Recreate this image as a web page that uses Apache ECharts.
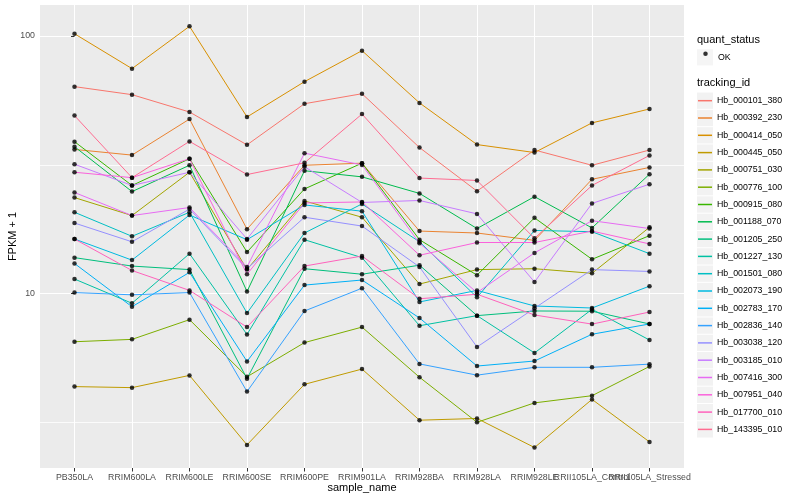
<!DOCTYPE html>
<html><head><meta charset="utf-8">
<script src="https://cdn.jsdelivr.net/npm/echarts@6/dist/echarts.min.js"></script>
<style>html,body{margin:0;padding:0;background:#fff}#c{width:800px;height:500px}</style>
</head><body><div id="c"></div>
<script>
const samples = ['PB350LA','RRIM600LA','RRIM600LE','RRIM600SE','RRIM600PE','RRIM901LA','RRIM928BA','RRIM928LA','RRIM928LE','RRII105LA_Control','RRII105LA_Stressed'];
const yTickValues = [10, 100];
const yMinorValues = [3.1623, 31.623];

const Hb_000101_380 = [63.6, 59.2, 50.7, 37.8, 54.6, 59.7, 36.9, 25.0, 36.1, 31.5, 36.1];
const Hb_000392_230 = [36.3, 34.5, 47.6, 17.8, 31.5, 32.1, 17.5, 17.2, 16.1, 27.8, 30.9];
const Hb_000414_050 = [102, 74.7, 109, 48.5, 66.5, 87.7, 55.0, 37.9, 35.3, 46.0, 52.1];
const Hb_000445_050 = [4.36, 4.32, 4.82, 2.59, 4.45, 5.10, 3.23, 3.28, 2.53, 3.89, 2.66];
const Hb_000751_030 = [23.6, 20.1, 29.6, 12.4, 22.9, 19.8, 10.9, 12.4, 12.5, 12.0, 18.1];
const Hb_000776_100 = [6.51, 6.65, 7.93, 4.76, 6.46, 7.42, 4.74, 3.17, 3.77, 4.02, 5.22];
const Hb_000915_080 = [38.9, 26.3, 33.4, 14.5, 25.5, 32.1, 16.2, 11.8, 19.7, 13.6, 16.8];
const Hb_001188_070 = [37.2, 24.9, 31.5, 10.2, 30.0, 28.4, 24.5, 17.9, 23.8, 18.0, 29.1];
const Hb_001205_250 = [13.8, 12.8, 12.4, 4.68, 12.5, 11.9, 12.9, 8.22, 8.57, 8.55, 7.63];
const Hb_001227_130 = [11.4, 9.18, 14.3, 6.95, 16.2, 13.8, 7.51, 8.22, 5.89, 8.70, 6.61];
const Hb_001501_080 = [20.7, 16.7, 20.7, 8.41, 17.2, 22.3, 15.9, 9.68, 17.6, 17.4, 14.3];
const Hb_002073_190 = [16.3, 13.5, 20.2, 16.2, 22.1, 20.9, 9.29, 10.3, 8.96, 8.80, 10.7];
const Hb_002783_170 = [13.1, 8.90, 12.1, 5.46, 10.8, 11.3, 8.05, 5.24, 5.48, 6.96, 7.63];
const Hb_002836_140 = [10.1, 9.90, 10.1, 4.17, 8.57, 10.5, 5.34, 4.83, 5.18, 5.18, 5.33];
const Hb_003038_120 = [18.8, 15.9, 21.3, 12.5, 19.8, 18.3, 12.7, 6.21, 8.78, 12.4, 12.2];
const Hb_003185_010 = [31.8, 26.3, 29.6, 16.3, 31.1, 22.6, 23.0, 20.4, 11.1, 22.4, 26.6];
const Hb_007416_300 = [24.7, 20.1, 21.6, 12.7, 35.1, 31.6, 15.7, 10.1, 14.4, 19.2, 17.9];
const Hb_007951_040 = [29.6, 28.2, 33.4, 11.9, 22.5, 22.7, 14.1, 15.8, 15.8, 17.5, 15.6];
const Hb_017700_010 = [16.3, 12.3, 10.3, 7.42, 12.8, 14.0, 9.56, 9.95, 8.27, 7.62, 8.49];
const Hb_143395_010 = [49.1, 28.2, 39.0, 29.0, 32.2, 49.8, 28.1, 27.5, 16.4, 26.3, 34.4];

const trackingIds = ['Hb_000101_380','Hb_000392_230','Hb_000414_050','Hb_000445_050','Hb_000751_030','Hb_000776_100','Hb_000915_080','Hb_001188_070','Hb_001205_250','Hb_001227_130','Hb_001501_080','Hb_002073_190','Hb_002783_170','Hb_002836_140','Hb_003038_120','Hb_003185_010','Hb_007416_300','Hb_007951_040','Hb_017700_010','Hb_143395_010'];
const seriesValues = [Hb_000101_380, Hb_000392_230, Hb_000414_050, Hb_000445_050, Hb_000751_030, Hb_000776_100, Hb_000915_080, Hb_001188_070, Hb_001205_250, Hb_001227_130, Hb_001501_080, Hb_002073_190, Hb_002783_170, Hb_002836_140, Hb_003038_120, Hb_003185_010, Hb_007416_300, Hb_007951_040, Hb_017700_010, Hb_143395_010];

const palette = ['#F8766D','#EA8331','#D89000','#C09B00','#A3A500','#7CAE00','#39B600','#00BB4E','#00BF7D','#00C1A3','#00BFC4','#00BAE0','#00B0F6','#35A2FF','#9590FF','#C77CFF','#E76BF3','#FA62DB','#FF62BC','#FF6C91'];
const FONT = '"Liberation Sans", Arial, Helvetica, sans-serif';
const idx = samples.map((s, i) => i);
const idxMain = idx.filter(i => i % 2 === 0);
const idxAlt = idx.filter(i => i % 2 === 1);
const Y_MIN = 2.107, Y_MAX = 131.9;

const lineSeries = trackingIds.map((id, k) => ({
  name: id, type: 'line', xAxisIndex: 0, yAxisIndex: 0,
  data: seriesValues[k].map((v, i) => [i, v]),
  showSymbol: false, symbol: 'none',
  lineStyle: { color: palette[k], width: 1 },
  itemStyle: { color: palette[k] },
  z: 3, silent: true, animation: false
}));
const points = [];
seriesValues.forEach(arr => arr.forEach((v, i) => points.push([i, v])));

const ROW_H = 16.3;
const lineIcon = 'path://M0,0 M14,16.3 M0,7.4 L14,7.4 L14,8.9 L0,8.9 Z';

const xLabelBase = { fontSize: 8.8, color: '#4D4D4D', margin: 5, fontFamily: FONT, hideOverlap: false, showMinLabel: true, showMaxLabel: true, formatter: v => samples[Math.round(v)] };

const chart = echarts.init(document.getElementById('c'), null, { renderer: 'canvas' });
chart.setOption({
  animation: false,
  backgroundColor: '#FFFFFF',
  grid: { left: 40, right: 116, top: 5, bottom: 32, show: true, backgroundColor: '#EBEBEB', borderWidth: 0, containLabel: false, outerBoundsMode: 'none' },
  xAxis: [{
    type: 'value', min: -0.6, max: 10.6, position: 'bottom',
    axisLine: { show: false },
    axisTick: { show: true, length: 3.5, lineStyle: { color: '#333333', width: 1 }, customValues: idx },
    axisLabel: Object.assign({ customValues: idxMain }, xLabelBase),
    splitLine: { show: true, lineStyle: { color: '#FFFFFF', width: 1.07 } },
    name: 'sample_name', nameLocation: 'middle', nameGap: 14, nameMoveOverlap: false,
    nameTextStyle: { fontSize: 11, color: '#000000', fontFamily: FONT }
  }, {
    type: 'value', min: -0.6, max: 10.6, position: 'bottom', offset: 0,
    axisLine: { show: false },
    axisTick: { show: false, customValues: idxAlt },
    axisLabel: Object.assign({ customValues: idxAlt }, xLabelBase),
    splitLine: { show: false }
  }],
  yAxis: {
    type: 'log', logBase: 10, min: Y_MIN, max: Y_MAX,
    axisLine: { show: false },
    axisTick: { show: true, length: 3.5, lineStyle: { color: '#333333', width: 1 }, customValues: yTickValues },
    axisLabel: { customValues: yTickValues, fontSize: 8.8, color: '#4D4D4D', margin: 5, fontFamily: FONT, showMinLabel: true, showMaxLabel: true },
    splitLine: { show: true, lineStyle: { color: '#FFFFFF', width: 1.07 } },
    name: 'FPKM + 1', nameLocation: 'middle', nameGap: 22, nameRotate: 90, nameMoveOverlap: false,
    nameTextStyle: { fontSize: 11, color: '#000000', fontFamily: FONT }
  },
  legend: [
    { orient: 'vertical', left: 697, top: 49.15, padding: 0, itemGap: 1, itemWidth: 16, itemHeight: ROW_H, selectedMode: false, z: 4,
      data: [{ name: 'OK', icon: 'rect', itemStyle: { color: '#F2F2F2', borderWidth: 0 } }],
      textStyle: { fontSize: 8.8, color: '#000000', fontFamily: FONT } },
    { orient: 'vertical', left: 703.25, top: 49.15, padding: 0, itemGap: 1, itemWidth: 4.5, itemHeight: ROW_H, selectedMode: false, z: 5,
      data: [{ name: 'OK', icon: 'circle', itemStyle: { color: '#000000', borderWidth: 0 } }],
      textStyle: { fontSize: 8.8, color: 'rgba(0,0,0,0)', fontFamily: FONT } },
    { orient: 'vertical', left: 697, top: 92.55, padding: 0, itemGap: 1, itemWidth: 16, itemHeight: ROW_H, selectedMode: false, z: 4,
      data: trackingIds.map(id => ({ name: id, icon: 'rect', itemStyle: { color: '#F2F2F2', borderWidth: 0 } })),
      textStyle: { fontSize: 8.8, color: 'rgba(0,0,0,0)', fontFamily: FONT } },
    { orient: 'vertical', left: 698, top: 92.55, padding: 0, itemGap: 1, itemWidth: 14, itemHeight: ROW_H, selectedMode: false, z: 5,
      data: trackingIds.map((id, k) => ({ name: id, icon: lineIcon, itemStyle: { color: palette[k], borderWidth: 0 } })),
      textStyle: { fontSize: 8.8, color: '#000000', fontFamily: FONT } }
  ],
  graphic: [
    { type: 'text', left: 697, top: 34.5, style: { text: 'quant_status', font: '11px ' + FONT, fill: '#000000' } },
    { type: 'text', left: 697, top: 77.5, style: { text: 'tracking_id', font: '11px ' + FONT, fill: '#000000' } }
  ],
  series: [{
    name: '_minor_grid', type: 'line', xAxisIndex: 0, yAxisIndex: 0, data: [[-0.6, 10], [10.6, 10]],
    showSymbol: false, symbol: 'none', lineStyle: { width: 0, opacity: 0 }, silent: true, z: 1,
    markLine: {
      silent: true, symbol: ['none', 'none'], z: 1, animation: false, precision: 4,
      label: { show: false },
      lineStyle: { color: '#FFFFFF', width: 0.8, type: 'solid', opacity: 1 },
      emphasis: { disabled: true },
      data: yMinorValues.map(v => ({ yAxis: v }))
    }
  }].concat(lineSeries).concat([{
    name: 'OK', type: 'scatter', xAxisIndex: 0, yAxisIndex: 0, data: points,
    symbol: 'circle', symbolSize: 4.5, itemStyle: { color: '#000000' }, z: 6, silent: true, animation: false
  }])
});
</script>
</body></html>
